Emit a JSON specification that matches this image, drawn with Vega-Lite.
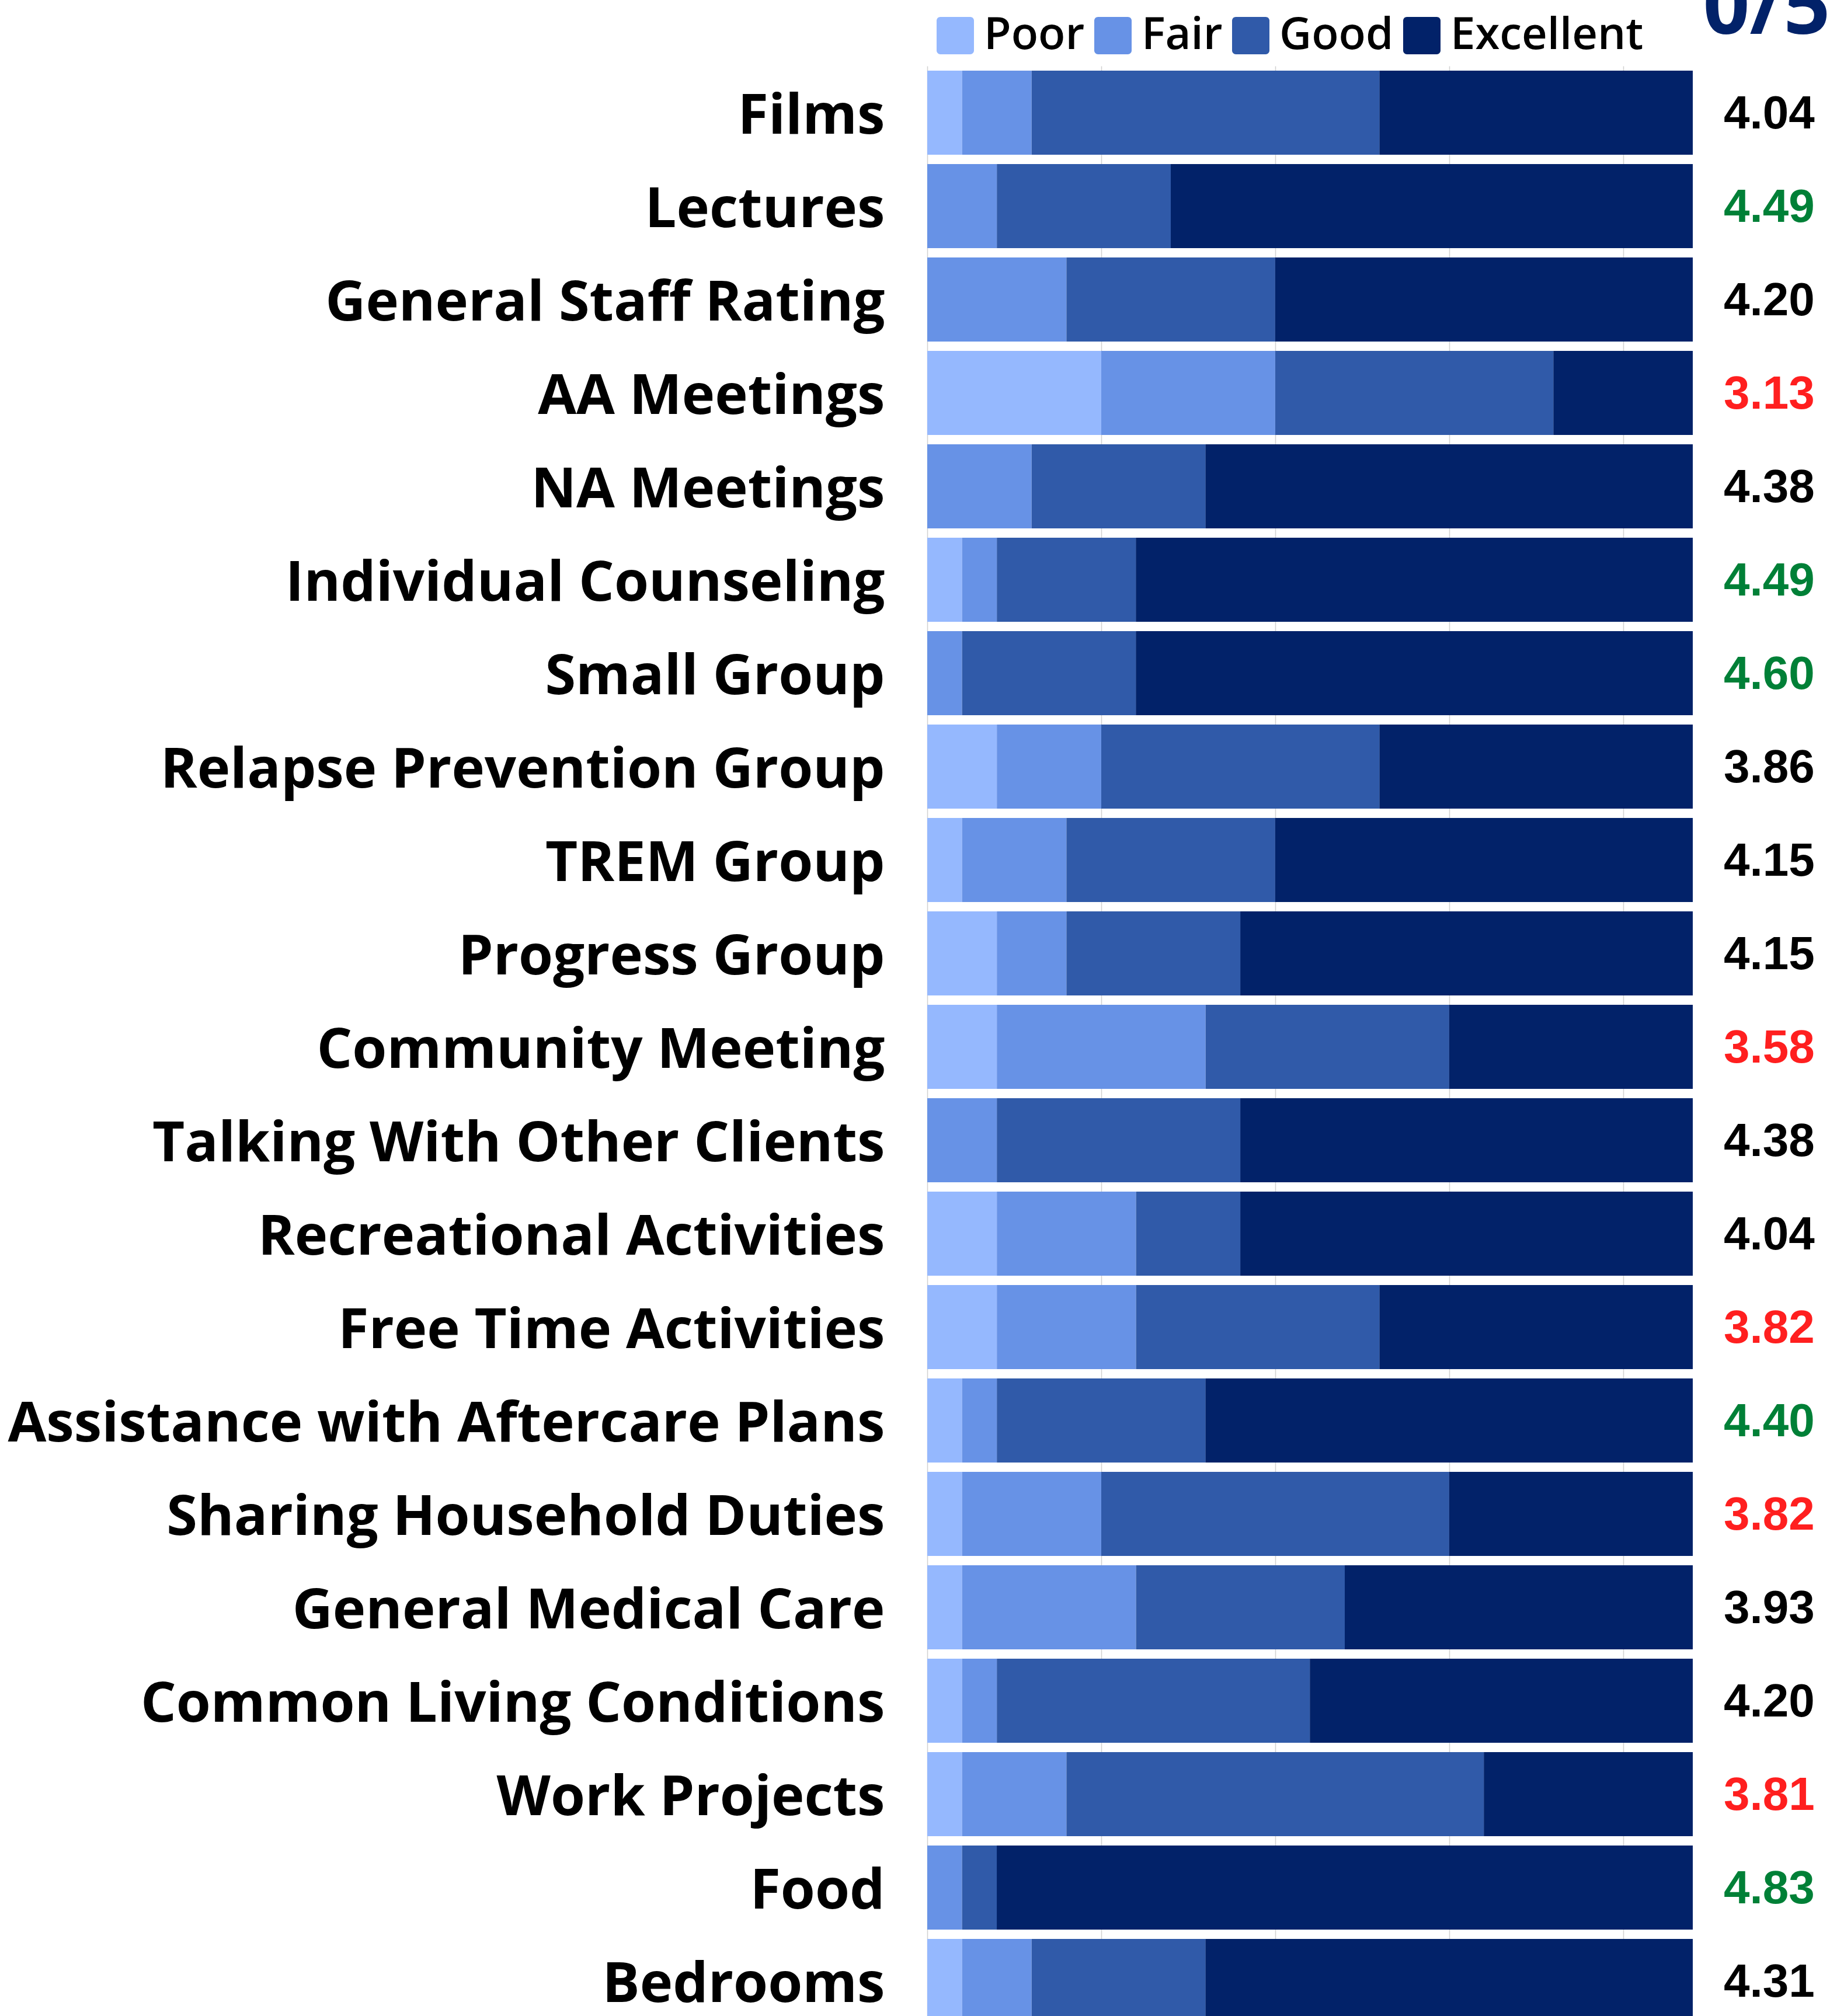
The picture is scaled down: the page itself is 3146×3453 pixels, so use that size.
{
  "$schema": "https://vega.github.io/schema/vega-lite/v6.json",
  "autosize": {"type": "none"},
  "padding": {"left": 1588, "top": 113, "right": 247, "bottom": 0},
  "width": 1311,
  "height": 3360,
  "background": "white",
  "datasets": {
    "ratings": [
      {"item": "Films", "rating": "Poor", "rank": 1, "count": 1},
      {"item": "Films", "rating": "Fair", "rank": 2, "count": 2},
      {"item": "Films", "rating": "Good", "rank": 3, "count": 10},
      {"item": "Films", "rating": "Excellent", "rank": 4, "count": 9},
      {"item": "Lectures", "rating": "Fair", "rank": 2, "count": 2},
      {"item": "Lectures", "rating": "Good", "rank": 3, "count": 5},
      {"item": "Lectures", "rating": "Excellent", "rank": 4, "count": 15},
      {"item": "General Staff Rating", "rating": "Fair", "rank": 2, "count": 4},
      {"item": "General Staff Rating", "rating": "Good", "rank": 3, "count": 6},
      {"item": "General Staff Rating", "rating": "Excellent", "rank": 4, "count": 12},
      {"item": "AA Meetings", "rating": "Poor", "rank": 1, "count": 5},
      {"item": "AA Meetings", "rating": "Fair", "rank": 2, "count": 5},
      {"item": "AA Meetings", "rating": "Good", "rank": 3, "count": 8},
      {"item": "AA Meetings", "rating": "Excellent", "rank": 4, "count": 4},
      {"item": "NA Meetings", "rating": "Fair", "rank": 2, "count": 3},
      {"item": "NA Meetings", "rating": "Good", "rank": 3, "count": 5},
      {"item": "NA Meetings", "rating": "Excellent", "rank": 4, "count": 14},
      {"item": "Individual Counseling", "rating": "Poor", "rank": 1, "count": 1},
      {"item": "Individual Counseling", "rating": "Fair", "rank": 2, "count": 1},
      {"item": "Individual Counseling", "rating": "Good", "rank": 3, "count": 4},
      {"item": "Individual Counseling", "rating": "Excellent", "rank": 4, "count": 16},
      {"item": "Small Group", "rating": "Fair", "rank": 2, "count": 1},
      {"item": "Small Group", "rating": "Good", "rank": 3, "count": 5},
      {"item": "Small Group", "rating": "Excellent", "rank": 4, "count": 16},
      {"item": "Relapse Prevention Group", "rating": "Poor", "rank": 1, "count": 2},
      {"item": "Relapse Prevention Group", "rating": "Fair", "rank": 2, "count": 3},
      {"item": "Relapse Prevention Group", "rating": "Good", "rank": 3, "count": 8},
      {"item": "Relapse Prevention Group", "rating": "Excellent", "rank": 4, "count": 9},
      {"item": "TREM Group", "rating": "Poor", "rank": 1, "count": 1},
      {"item": "TREM Group", "rating": "Fair", "rank": 2, "count": 3},
      {"item": "TREM Group", "rating": "Good", "rank": 3, "count": 6},
      {"item": "TREM Group", "rating": "Excellent", "rank": 4, "count": 12},
      {"item": "Progress Group", "rating": "Poor", "rank": 1, "count": 2},
      {"item": "Progress Group", "rating": "Fair", "rank": 2, "count": 2},
      {"item": "Progress Group", "rating": "Good", "rank": 3, "count": 5},
      {"item": "Progress Group", "rating": "Excellent", "rank": 4, "count": 13},
      {"item": "Community Meeting", "rating": "Poor", "rank": 1, "count": 2},
      {"item": "Community Meeting", "rating": "Fair", "rank": 2, "count": 6},
      {"item": "Community Meeting", "rating": "Good", "rank": 3, "count": 7},
      {"item": "Community Meeting", "rating": "Excellent", "rank": 4, "count": 7},
      {"item": "Talking With Other Clients", "rating": "Fair", "rank": 2, "count": 2},
      {"item": "Talking With Other Clients", "rating": "Good", "rank": 3, "count": 7},
      {"item": "Talking With Other Clients", "rating": "Excellent", "rank": 4, "count": 13},
      {"item": "Recreational Activities", "rating": "Poor", "rank": 1, "count": 2},
      {"item": "Recreational Activities", "rating": "Fair", "rank": 2, "count": 4},
      {"item": "Recreational Activities", "rating": "Good", "rank": 3, "count": 3},
      {"item": "Recreational Activities", "rating": "Excellent", "rank": 4, "count": 13},
      {"item": "Free Time Activities", "rating": "Poor", "rank": 1, "count": 2},
      {"item": "Free Time Activities", "rating": "Fair", "rank": 2, "count": 4},
      {"item": "Free Time Activities", "rating": "Good", "rank": 3, "count": 7},
      {"item": "Free Time Activities", "rating": "Excellent", "rank": 4, "count": 9},
      {"item": "Assistance with Aftercare Plans", "rating": "Poor", "rank": 1, "count": 1},
      {"item": "Assistance with Aftercare Plans", "rating": "Fair", "rank": 2, "count": 1},
      {"item": "Assistance with Aftercare Plans", "rating": "Good", "rank": 3, "count": 6},
      {"item": "Assistance with Aftercare Plans", "rating": "Excellent", "rank": 4, "count": 14},
      {"item": "Sharing Household Duties", "rating": "Poor", "rank": 1, "count": 1},
      {"item": "Sharing Household Duties", "rating": "Fair", "rank": 2, "count": 4},
      {"item": "Sharing Household Duties", "rating": "Good", "rank": 3, "count": 10},
      {"item": "Sharing Household Duties", "rating": "Excellent", "rank": 4, "count": 7},
      {"item": "General Medical Care", "rating": "Poor", "rank": 1, "count": 1},
      {"item": "General Medical Care", "rating": "Fair", "rank": 2, "count": 5},
      {"item": "General Medical Care", "rating": "Good", "rank": 3, "count": 6},
      {"item": "General Medical Care", "rating": "Excellent", "rank": 4, "count": 10},
      {"item": "Common Living Conditions", "rating": "Poor", "rank": 1, "count": 1},
      {"item": "Common Living Conditions", "rating": "Fair", "rank": 2, "count": 1},
      {"item": "Common Living Conditions", "rating": "Good", "rank": 3, "count": 9},
      {"item": "Common Living Conditions", "rating": "Excellent", "rank": 4, "count": 11},
      {"item": "Work Projects", "rating": "Poor", "rank": 1, "count": 1},
      {"item": "Work Projects", "rating": "Fair", "rank": 2, "count": 3},
      {"item": "Work Projects", "rating": "Good", "rank": 3, "count": 12},
      {"item": "Work Projects", "rating": "Excellent", "rank": 4, "count": 6},
      {"item": "Food", "rating": "Fair", "rank": 2, "count": 1},
      {"item": "Food", "rating": "Good", "rank": 3, "count": 1},
      {"item": "Food", "rating": "Excellent", "rank": 4, "count": 20},
      {"item": "Bedrooms", "rating": "Poor", "rank": 1, "count": 1},
      {"item": "Bedrooms", "rating": "Fair", "rank": 2, "count": 2},
      {"item": "Bedrooms", "rating": "Good", "rank": 3, "count": 5},
      {"item": "Bedrooms", "rating": "Excellent", "rank": 4, "count": 14}
    ],
    "scores": [
      {"item": "Films", "score": "4.04", "tone": "mid"},
      {"item": "Lectures", "score": "4.49", "tone": "high"},
      {"item": "General Staff Rating", "score": "4.20", "tone": "mid"},
      {"item": "AA Meetings", "score": "3.13", "tone": "low"},
      {"item": "NA Meetings", "score": "4.38", "tone": "mid"},
      {"item": "Individual Counseling", "score": "4.49", "tone": "high"},
      {"item": "Small Group", "score": "4.60", "tone": "high"},
      {"item": "Relapse Prevention Group", "score": "3.86", "tone": "mid"},
      {"item": "TREM Group", "score": "4.15", "tone": "mid"},
      {"item": "Progress Group", "score": "4.15", "tone": "mid"},
      {"item": "Community Meeting", "score": "3.58", "tone": "low"},
      {"item": "Talking With Other Clients", "score": "4.38", "tone": "mid"},
      {"item": "Recreational Activities", "score": "4.04", "tone": "mid"},
      {"item": "Free Time Activities", "score": "3.82", "tone": "low"},
      {"item": "Assistance with Aftercare Plans", "score": "4.40", "tone": "high"},
      {"item": "Sharing Household Duties", "score": "3.82", "tone": "low"},
      {"item": "General Medical Care", "score": "3.93", "tone": "mid"},
      {"item": "Common Living Conditions", "score": "4.20", "tone": "mid"},
      {"item": "Work Projects", "score": "3.81", "tone": "low"},
      {"item": "Food", "score": "4.83", "tone": "high"},
      {"item": "Bedrooms", "score": "4.31", "tone": "mid"}
    ]
  },
  "encoding": {
    "y": {
      "field": "item",
      "type": "nominal",
      "sort": ["Films", "Lectures", "General Staff Rating", "AA Meetings", "NA Meetings", "Individual Counseling", "Small Group", "Relapse Prevention Group", "TREM Group", "Progress Group", "Community Meeting", "Talking With Other Clients", "Recreational Activities", "Free Time Activities", "Assistance with Aftercare Plans", "Sharing Household Duties", "General Medical Care", "Common Living Conditions", "Work Projects", "Food", "Bedrooms"],
      "scale": {"paddingInner": 0.1, "paddingOuter": 0.05},
      "axis": {
        "title": "0/5",
        "titleX": 1546,
        "titleY": -56,
        "titleAngle": 0,
        "titleAlign": "right",
        "titleBaseline": "alphabetic",
        "titleFont": "Open Sans",
        "titleFontSize": 140,
        "titleFontWeight": "bold",
        "titleColor": "#022269",
        "domain": false,
        "ticks": false,
        "labelFont": "Open Sans",
        "labelFontSize": 95.5,
        "labelFontWeight": "bold",
        "labelColor": "black",
        "labelPadding": 73,
        "labelOffset": 7,
        "labelLimit": 3000
      }
    }
  },
  "layer": [
    {
      "data": {"name": "ratings"},
      "transform": [
        {"stack": "count", "groupby": ["item"], "sort": [{"field": "rank", "order": "ascending"}], "as": ["x0", "x1"]}
      ],
      "mark": {"type": "bar"},
      "encoding": {
        "x": {
          "field": "x0",
          "type": "quantitative",
          "scale": {"domain": [0, 22], "nice": false},
          "axis": {"title": null, "labels": false, "ticks": false, "domain": false, "grid": true, "values": [0, 5, 10, 15, 20], "gridColor": "#d0d0d0", "gridWidth": 1.5}
        },
        "x2": {"field": "x1"},
        "color": {
          "field": "rating",
          "type": "nominal",
          "scale": {"domain": ["Poor", "Fair", "Good", "Excellent"], "range": ["#95B8FE", "#6792E6", "#305AA9", "#022269"]},
          "legend": {
            "title": null,
            "orient": "none",
            "direction": "horizontal",
            "legendX": 10,
            "legendY": -90,
            "symbolType": "M -0.8,-1 H 0.8 A 0.2 0.2 0 0 1 1,-0.8 V 0.8 A 0.2 0.2 0 0 1 0.8,1 H -0.8 A 0.2 0.2 0 0 1 -1,0.8 V -0.8 A 0.2 0.2 0 0 1 -0.8,-1 Z",
            "symbolSize": 4096,
            "symbolStrokeWidth": 0,
            "symbolOpacity": 1,
            "labelFont": "Open Sans",
            "labelFontSize": 76,
            "labelFontWeight": 600,
            "labelColor": "black",
            "labelOffset": 11,
            "columnPadding": 10,
            "labelLimit": 1000
          }
        }
      }
    },
    {
      "data": {"name": "ratings"},
      "transform": [
        {"stack": "count", "groupby": ["item"], "sort": [{"field": "rank", "order": "ascending"}], "as": ["x0", "x1"]},
        {"filter": "datum.rating == 'Excellent'"}
      ],
      "mark": {"type": "bar", "color": "#022269", "cornerRadiusTopRight": 12, "cornerRadiusBottomRight": 12},
      "encoding": {
        "x": {"field": "x0", "type": "quantitative"},
        "x2": {"field": "x1"}
      }
    },
    {
      "data": {"name": "scores"},
      "mark": {"type": "text", "align": "left", "baseline": "middle", "dx": 53, "dy": 3, "font": "Liberation Sans", "fontSize": 80, "fontWeight": "bold"},
      "encoding": {
        "x": {"datum": 22, "type": "quantitative"},
        "text": {"field": "score"},
        "color": {
          "condition": [
            {"test": "datum.tone == 'high'", "value": "#008037"},
            {"test": "datum.tone == 'low'", "value": "#FF1F1F"}
          ],
          "value": "black"
        }
      }
    }
  ],
  "config": {"view": {"stroke": null}}
}
